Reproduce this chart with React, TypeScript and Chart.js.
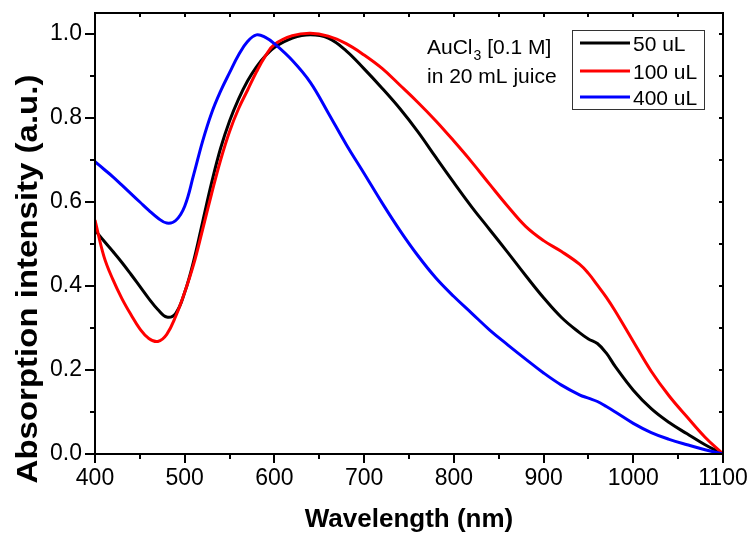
import React, { useEffect, useRef } from "react";
import { Chart, registerables } from "chart.js";

Chart.register(...registerables);

const wavelengths = [400, 410, 420, 430, 440, 450, 460, 470, 480, 490, 500, 510, 520, 530, 540, 550, 560, 570, 580, 590, 600, 620, 640, 660, 680, 700, 720, 740, 760, 780, 800, 820, 840, 860, 880, 900, 920, 940, 950, 960, 970, 980, 1000, 1020, 1040, 1060, 1080, 1100];

const series50 = [0.533, 0.507, 0.482, 0.456, 0.428, 0.399, 0.37, 0.344, 0.326, 0.335, 0.385, 0.46, 0.553, 0.646, 0.728, 0.793, 0.845, 0.888, 0.922, 0.948, 0.968, 0.99, 0.998, 0.99, 0.96, 0.917, 0.871, 0.822, 0.767, 0.706, 0.646, 0.588, 0.534, 0.48, 0.425, 0.372, 0.325, 0.289, 0.274, 0.263, 0.24, 0.208, 0.152, 0.108, 0.075, 0.048, 0.022, 0.0];

const series100 = [0.557, 0.47, 0.415, 0.37, 0.332, 0.298, 0.275, 0.268, 0.285, 0.328, 0.385, 0.452, 0.535, 0.62, 0.7, 0.768, 0.822, 0.866, 0.91, 0.948, 0.975, 0.996, 1.002, 0.995, 0.977, 0.95, 0.918, 0.878, 0.837, 0.793, 0.745, 0.695, 0.642, 0.59, 0.542, 0.508, 0.482, 0.452, 0.43, 0.402, 0.373, 0.34, 0.268, 0.197, 0.138, 0.088, 0.04, 0.0];

const series400 = [0.696, 0.678, 0.66, 0.64, 0.62, 0.6, 0.58, 0.562, 0.55, 0.556, 0.59, 0.665, 0.745, 0.812, 0.864, 0.908, 0.95, 0.982, 0.998, 0.992, 0.977, 0.937, 0.885, 0.812, 0.737, 0.668, 0.598, 0.532, 0.472, 0.419, 0.375, 0.335, 0.295, 0.26, 0.226, 0.193, 0.164, 0.141, 0.133, 0.125, 0.113, 0.1, 0.073, 0.051, 0.035, 0.022, 0.01, 0.0];

const seriesLabels = ["50 uL", "100 uL", "400 uL"];
const seriesColors = ["#000000", "#ff0000", "#0000ff"];

const xTickValues = [400, 500, 600, 700, 800, 900, 1000, 1100];
const xMinorTickValues = [450, 550, 650, 750, 850, 950, 1050];
const yTickValues = [0.0, 0.2, 0.4, 0.6, 0.8, 1.0];
const yMinorTickValues = [0.1, 0.3, 0.5, 0.7, 0.9];

const xTitle = "Wavelength (nm)";
const yTitle = "Absorption intensity (a.u.)";
const noteLine1a = "AuCl";
const noteSub = "3";
const noteLine1b = " [0.1 M]";
const noteLine2 = "in 20 mL juice";

const FONT = '"Liberation Sans", Arial, Helvetica, sans-serif';

const decorPlugin = {
  id: "decor",
  afterDraw(chart: any) {
    const ctx = chart.ctx;
    const { left, right, top, bottom } = chart.chartArea;
    const xs = chart.scales.x;
    const ys = chart.scales.y;
    ctx.save();
    ctx.strokeStyle = "#000";
    ctx.lineWidth = 2;
    ctx.strokeRect(left, top, right - left, bottom - top);

    ctx.beginPath();
    xTickValues.forEach((v) => {
      const p = Math.round(xs.getPixelForValue(v));
      ctx.moveTo(p, bottom);
      ctx.lineTo(p, bottom + 9);
    });
    xMinorTickValues.forEach((v) => {
      const p = Math.round(xs.getPixelForValue(v));
      ctx.moveTo(p, bottom);
      ctx.lineTo(p, bottom + 5);
    });
    yTickValues.forEach((v) => {
      const p = Math.round(ys.getPixelForValue(v));
      ctx.moveTo(left, p);
      ctx.lineTo(left - 10, p);
    });
    yMinorTickValues.forEach((v) => {
      const p = Math.round(ys.getPixelForValue(v));
      ctx.moveTo(left, p);
      ctx.lineTo(left - 5, p);
    });
    [...xTickValues, ...xMinorTickValues].forEach((v) => {
      const p = Math.round(xs.getPixelForValue(v));
      ctx.moveTo(p, top);
      ctx.lineTo(p, top + 4);
    });
    [...yTickValues, ...yMinorTickValues].forEach((v) => {
      const p = Math.round(ys.getPixelForValue(v));
      ctx.moveTo(right, p);
      ctx.lineTo(right - 4, p);
    });
    ctx.stroke();

    // legend box
    ctx.lineWidth = 1;
    ctx.strokeStyle = "#333";
    ctx.strokeRect(572.5, 30.5, 132, 79);
    const rowsY = [43, 71, 97];
    const datasets = chart.data.datasets;
    ctx.font = `21px ${FONT}`;
    ctx.fillStyle = "#000";
    ctx.textAlign = "left";
    ctx.textBaseline = "alphabetic";
    datasets.forEach((ds: any, i: number) => {
      ctx.beginPath();
      ctx.strokeStyle = ds.borderColor;
      ctx.lineWidth = 3;
      ctx.moveTo(580, rowsY[i]);
      ctx.lineTo(630, rowsY[i]);
      ctx.stroke();
      ctx.fillText(ds.label, 633, rowsY[i] + 8);
    });

    // annotation
    ctx.font = `21px ${FONT}`;
    ctx.fillStyle = "#000";
    let x = 427;
    ctx.fillText(noteLine1a, x, 54);
    x += ctx.measureText(noteLine1a).width + 1;
    ctx.font = `14px ${FONT}`;
    ctx.fillText(noteSub, x, 60);
    x += ctx.measureText(noteSub).width;
    ctx.font = `21px ${FONT}`;
    ctx.fillText(noteLine1b, x, 54);
    ctx.fillText(noteLine2, 427, 83);

    // axis titles
    ctx.font = `bold 26px ${FONT}`;
    ctx.textAlign = "center";
    ctx.fillText(xTitle, (left + right) / 2, 527);

    ctx.save();
    ctx.translate(37, 279);
    ctx.rotate(-Math.PI / 2);
    ctx.scale(1.1, 1);
    ctx.font = `bold 30px ${FONT}`;
    ctx.textAlign = "center";
    ctx.fillText(yTitle, 0, 0);
    ctx.restore();

    ctx.restore();
  },
};

export default function App() {
  const ref = useRef<HTMLCanvasElement | null>(null);
  useEffect(() => {
    document.body.style.margin = "0";
    const canvas = ref.current;
    if (!canvas) return;
    const allSeries = [series50, series100, series400];
    const chart = new Chart(canvas, {
      type: "line",
      data: {
        datasets: allSeries.map((s, i) => ({
          label: seriesLabels[i],
          data: wavelengths.map((w, j) => ({ x: w, y: s[j] })),
          borderColor: seriesColors[i],
          backgroundColor: seriesColors[i],
          borderWidth: 3,
          pointRadius: 0,
          fill: false,
          tension: 0.4,
          order: 3 - i,
        })),
      },
      options: {
        animation: false,
        responsive: false,
        maintainAspectRatio: false,
        layout: { padding: { left: 0, top: 13, right: 28, bottom: 0 } },
        plugins: {
          legend: { display: false },
          tooltip: { enabled: false },
          title: { display: false },
        },
        scales: {
          x: {
            type: "linear",
            min: 400,
            max: 1100,
            afterBuildTicks: (scale: any) => {
              scale.ticks = xTickValues.map((v) => ({ value: v }));
            },
            afterFit: (scale: any) => {
              scale.height = 81;
              scale.paddingLeft = 0;
              scale.paddingRight = 0;
            },
            grid: { display: false, drawTicks: false },
            border: { display: false },
            ticks: {
              color: "#000",
              font: { family: FONT, size: 23 },
              padding: 11,
              maxRotation: 0,
              autoSkip: false,
              callback: (v: any) => String(v),
            },
          },
          y: {
            type: "linear",
            min: 0,
            max: 1.05,
            afterBuildTicks: (scale: any) => {
              scale.ticks = yTickValues.map((v) => ({ value: v }));
            },
            afterFit: (scale: any) => {
              scale.width = 95;
              scale.paddingTop = 0;
              scale.paddingBottom = 0;
            },
            grid: { display: false, drawTicks: false },
            border: { display: false },
            ticks: {
              color: "#000",
              font: { family: FONT, size: 23 },
              padding: 13,
              autoSkip: false,
              callback: (v: any) => Number(v).toFixed(1),
            },
          },
        },
      },
      plugins: [decorPlugin],
    });
    return () => chart.destroy();
  }, []);
  return (
    <div style={{ position: "absolute", left: 0, top: 0, width: 751, height: 535, background: "#fff" }}>
      <canvas ref={ref} width={751} height={535} style={{ width: 751, height: 535 }} />
    </div>
  );
}
